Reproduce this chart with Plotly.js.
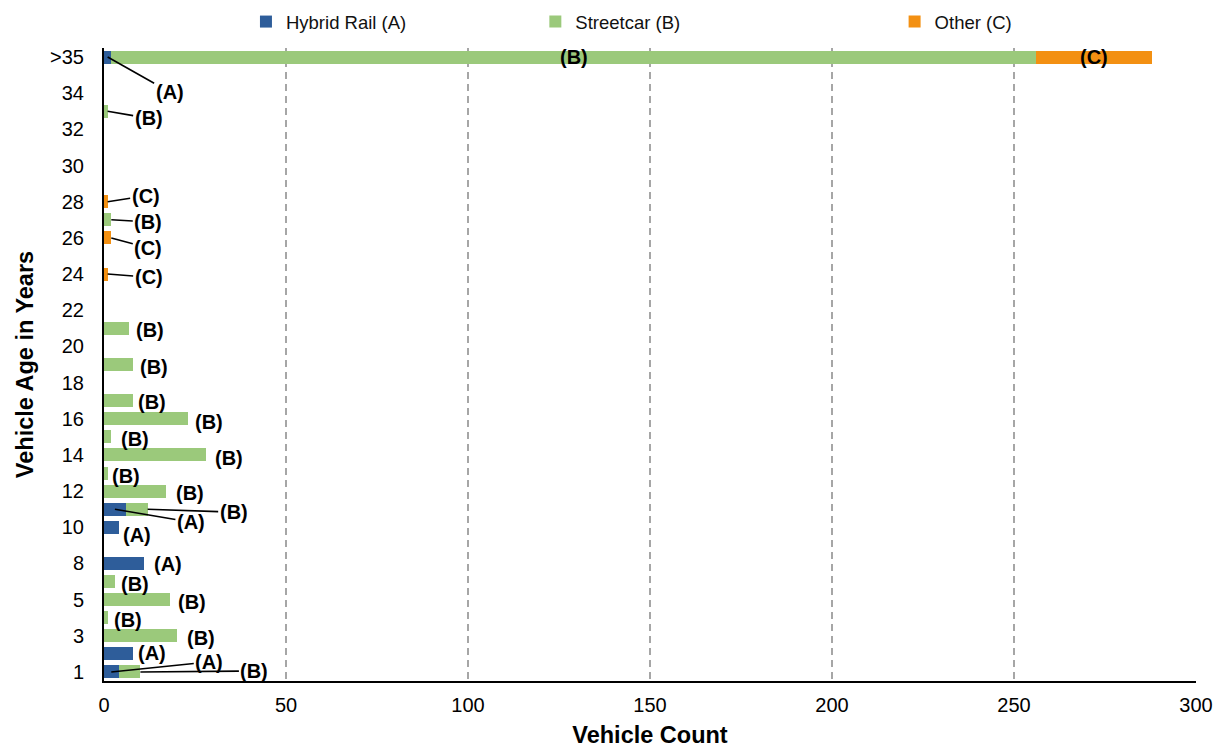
<!DOCTYPE html>
<html>
<head>
<meta charset="utf-8">
<script src="https://cdn.plot.ly/plotly-3.0.1.min.js"></script>
<style>html,body{margin:0;padding:0;background:#fff;}#chart{width:1222px;height:748px;}</style>
</head>
<body>
<div id="chart"></div>
<script>
// ---- data ----
const ages = ['1','2','3','4','5','6','8','9','10','11','12','13','14','15','16','17','18','19','20','21','22','23','24','25','26','27','28','29','30','31','32','33','34','35','>35'];
const shownTicks = ['1','3','5','8','10','12','14','16','18','20','22','24','26','28','30','32','34','>35'];
const hybridRailA = [4,8,0,0,0,0,11,0,4,6,0,0,0,0,0,0,0,0,0,0,0,0,0,0,0,0,0,0,0,0,0,0,0,0,2];
const streetcarB  = [6,0,20,1,18,3,0,0,0,6,17,1,28,2,23,8,0,8,0,7,0,0,0,0,0,2,0,0,0,0,0,1,0,0,254];
const otherC      = [0,0,0,0,0,0,0,0,0,0,0,0,0,0,0,0,0,0,0,0,0,0,1,0,2,0,1,0,0,0,0,0,0,0,32];
const seriesNames = ['Hybrid Rail (A)','Streetcar (B)','Other (C)'];
const seriesTags  = ['(A)','(B)','(C)'];

// ---- label placement (style only) ----
// mode: 'inside' | 'right' (no leader) | 'leader'
const labelSpec = [
  {age:'>35', s:0, mode:'leader', at:'mid', dx:62, dy:35},
  {age:'>35', s:1, mode:'inside'},
  {age:'>35', s:2, mode:'inside'},
  {age:'33', s:1, mode:'leader', at:'end', dx:41, dy:7},
  {age:'28', s:2, mode:'leader', at:'end', dx:38, dy:-6},
  {age:'27', s:1, mode:'leader', at:'end', dx:37, dy:2},
  {age:'26', s:2, mode:'leader', at:'end', dx:37, dy:10},
  {age:'24', s:2, mode:'leader', at:'end', dx:41, dy:3},
  {age:'21', s:1, mode:'right', dx:5, dy:-2},
  {age:'19', s:1, mode:'right', dx:5, dy:-2},
  {age:'17', s:1, mode:'right', dx:3, dy:-1},
  {age:'16', s:1, mode:'right', dx:5, dy:-3},
  {age:'15', s:1, mode:'right', dx:8, dy:-2},
  {age:'14', s:1, mode:'right', dx:7, dy:-3},
  {age:'13', s:1, mode:'right', dx:2, dy:-3},
  {age:'12', s:1, mode:'right', dx:8, dy:-2},
  {age:'11', s:1, mode:'leader', at:'end', dx:86, dy:3},
  {age:'11', s:0, mode:'leader', at:'mid', dx:76, dy:13},
  {age:'10', s:0, mode:'right', dx:2, dy:-8},
  {age:'8', s:0, mode:'right', dx:8, dy:-1},
  {age:'6', s:1, mode:'right', dx:4, dy:-2},
  {age:'5', s:1, mode:'right', dx:6, dy:-2},
  {age:'4', s:1, mode:'right', dx:4, dy:-2},
  {age:'3', s:1, mode:'right', dx:8, dy:-2},
  {age:'2', s:0, mode:'right', dx:3, dy:1},
  {age:'1', s:0, mode:'leader', at:'mid', dx:98, dy:-10},
  {age:'1', s:1, mode:'leader', at:'end', dx:114, dy:-1}
];

const colors = ['#2E5D9A','#9BC97B','#F39012'];
const seriesVals = [hybridRailA, streetcarB, otherC];
const legendIds = ['legend','legend2','legend3'];

const traces = seriesVals.map((vals, i) => ({
  type:'bar', orientation:'h', name:seriesNames[i],
  x:vals, y:ages, marker:{color:colors[i]},
  legend:legendIds[i], hoverinfo:'x+y+name'
}));

const labelFont = {family:'Liberation Sans, Arial, sans-serif', size:20, color:'#000', weight:'bold'};
const annotations = labelSpec.map(l => {
  const idx = ages.indexOf(l.age);
  let start = 0;
  for (let k = 0; k < l.s; k++) start += seriesVals[k][idx];
  const end = start + seriesVals[l.s][idx];
  const mid = (start + end) / 2;
  const txt = '<b>' + seriesTags[l.s] + '</b>';
  // y given as category index so numeric-looking category names are not misread
  if (l.mode === 'inside') {
    return {x:mid, y:idx, xref:'x', yref:'y', text:txt, showarrow:false, font:labelFont, xanchor:'center', yanchor:'middle'};
  }
  if (l.mode === 'right') {
    return {x:end, y:idx, xref:'x', yref:'y', text:txt, showarrow:false, font:labelFont,
            xanchor:'left', yanchor:'middle', xshift:l.dx, yshift:l.dy};
  }
  return {x:(l.at === 'mid' ? mid : end), y:idx, xref:'x', yref:'y', text:txt, font:labelFont,
          showarrow:true, arrowhead:0, arrowwidth:1.6, arrowcolor:'#000', ax:l.dx, ay:l.dy, standoff:0, startstandoff:0};
});

const legendFont = {family:'Liberation Sans, Arial, sans-serif', size:18.5, color:'#111'};
const mkLegend = (x) => ({orientation:'h', x:x, xanchor:'left', y:1.041, yanchor:'middle', font:legendFont, bgcolor:'rgba(0,0,0,0)', borderwidth:0});

const layout = {
  width:1222, height:748,
  margin:{l:104, r:26, t:48, b:67, autoexpand:false},
  paper_bgcolor:'#fff', plot_bgcolor:'#fff',
  barmode:'stack', bargap:0.28,
  font:{family:'Liberation Sans, Arial, sans-serif', color:'#000'},
  showlegend:true,
  legend:mkLegend(0.130), legend2:mkLegend(0.395), legend3:mkLegend(0.724),
  xaxis:{
    range:[0,300], tickvals:[0,50,100,150,200,250,300], ticks:'',
    showgrid:true, gridcolor:'#A6A6A6', gridwidth:1.6, griddash:'7px,5px',
    zeroline:false, showline:true, linecolor:'#000', linewidth:2,
    tickfont:{size:20, color:'#000'}, ticklabelstandoff:5,
    title:{text:'<b>Vehicle Count</b>', font:{size:23.5, color:'#000'}, standoff:14}
  },
  yaxis:{
    type:'category', categoryorder:'array', categoryarray:ages, range:[-0.5, ages.length-0.5],
    tickmode:'array', tickvals:shownTicks, ticktext:shownTicks, ticks:'',
    showgrid:false, zeroline:false, showline:true, linecolor:'#000', linewidth:2,
    tickfont:{size:20, color:'#000'}, ticklabelstandoff:14,
    title:{text:'<b>Vehicle Age in Years</b>', font:{size:23.5, color:'#000'}, standoff:10}
  },
  annotations:annotations
};

Plotly.newPlot('chart', traces, layout, {displayModeBar:false, staticPlot:true});
</script>
</body>
</html>
